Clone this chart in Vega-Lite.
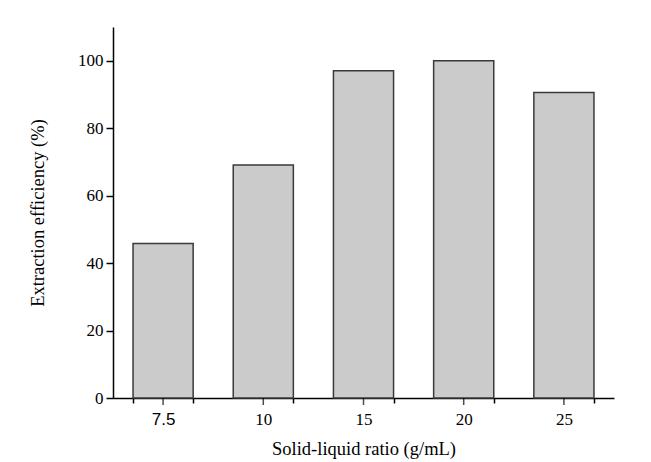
{
  "$schema": "https://vega.github.io/schema/vega-lite/v6.json",
  "autosize": {"type": "none"},
  "padding": {"left": 113, "top": 27, "right": 37, "bottom": 64},
  "width": 501,
  "height": 371,
  "background": "white",
  "config": {
    "view": {"stroke": null},
    "font": "Liberation Serif",
    "axis": {
      "labelFont": "Liberation Serif",
      "titleFont": "Liberation Serif",
      "labelColor": "black",
      "titleColor": "black",
      "domainColor": "black",
      "tickColor": "black",
      "domainWidth": 1.5,
      "tickWidth": 1.5,
      "titleFontWeight": "normal",
      "labelFontSize": 17,
      "titleFontSize": 18.5,
      "grid": false
    }
  },
  "data": {
    "values": [
      {"ratio": "7.5", "efficiency": 45.8},
      {"ratio": "10", "efficiency": 69.1},
      {"ratio": "15", "efficiency": 97.0},
      {"ratio": "20", "efficiency": 100.0},
      {"ratio": "25", "efficiency": 90.6}
    ]
  },
  "encoding": {
    "x": {
      "field": "ratio",
      "type": "ordinal",
      "sort": null,
      "scale": {"paddingInner": 0.4, "paddingOuter": 0.2},
      "axis": {
        "title": "Solid-liquid ratio (g/mL)",
        "labelAngle": 0,
        "tickBand": "extent",
        "tickSize": 5,
        "labelPadding": 8,
        "titlePadding": 12,
        "labelFont": {"condition": {"test": "datum.label == '7.5'", "value": "Liberation Sans"}, "value": "Liberation Serif"}
      }
    }
  },
  "layer": [
    {
      "mark": {"type": "bar", "fill": "#cbcbcb", "stroke": "#3a3a3a", "strokeWidth": 1.5},
      "encoding": {
        "y": {
          "field": "efficiency",
          "type": "quantitative",
          "scale": {"domain": [0, 110], "nice": false},
          "axis": {
            "title": "Extraction efficiency (%)",
            "values": [0, 10, 20, 30, 40, 50, 60, 70, 80, 90, 100, 110],
            "labelExpr": "datum.value % 20 == 0 && datum.value <= 100 ? datum.label : ''",
            "tickSize": 7,
            "labelPadding": 3,
            "titlePadding": 30
          }
        }
      }
    },
    {
      "mark": {"type": "tick", "orient": "vertical", "color": "black", "size": 7, "thickness": 1.5, "yOffset": 3.5},
      "encoding": {
        "y": {"datum": 0, "type": "quantitative"}
      }
    }
  ]
}
